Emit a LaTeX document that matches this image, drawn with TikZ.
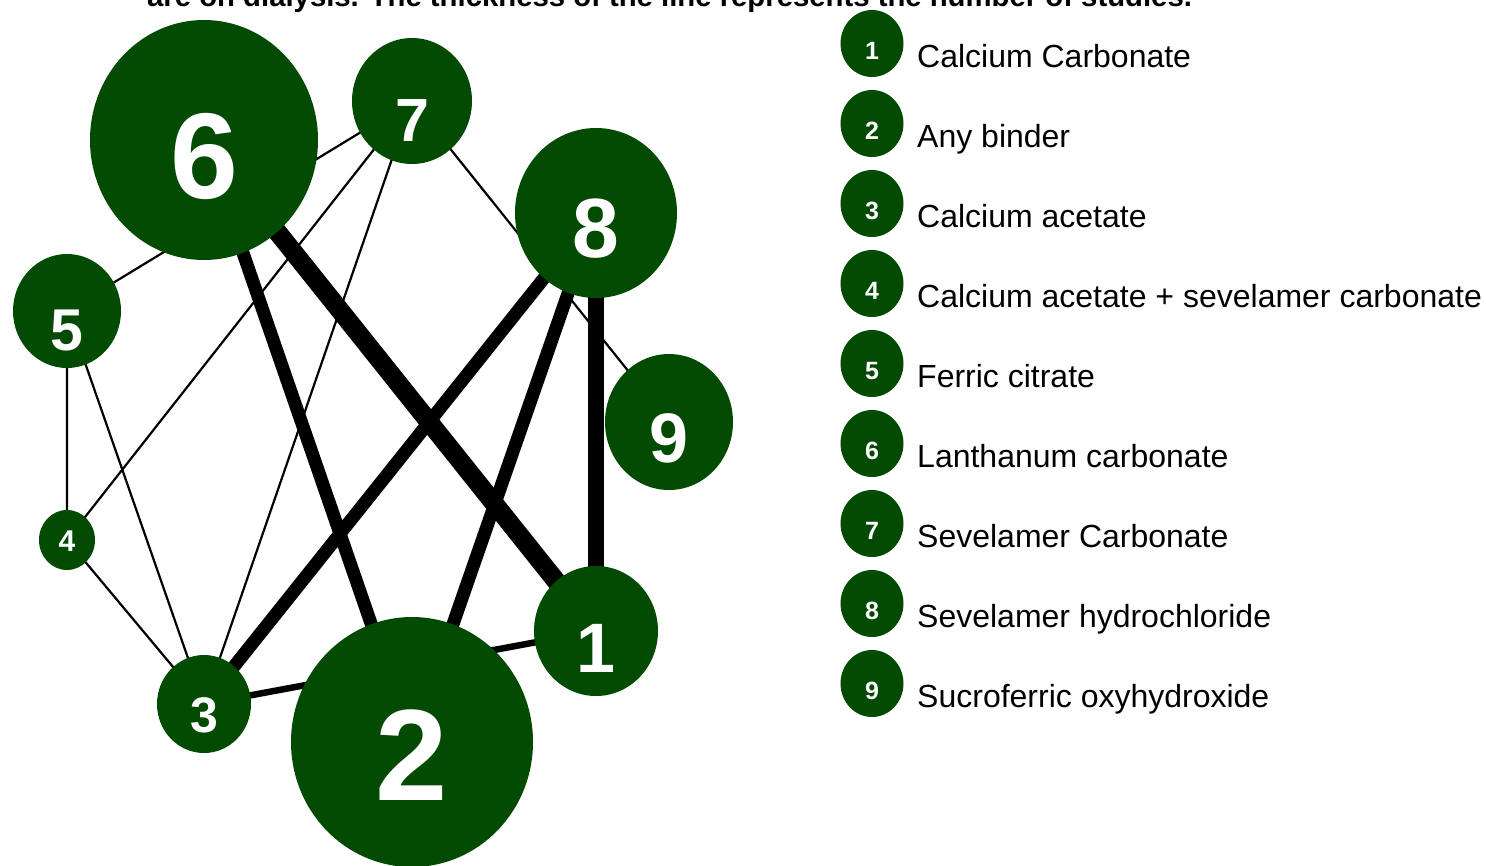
\documentclass[tikz,border=0pt]{standalone}
\usepackage{fontspec}
\setmainfont{Liberation Sans}
\usetikzlibrary{shapes.geometric,backgrounds}
\definecolor{dkgreen}{RGB}{3,74,3}
\tikzset{
  drug/.style n args={4}{ellipse,fill=dkgreen,text=white,inner sep=0pt,minimum width=#1,minimum height=#2,
    font=\bfseries\fontsize{#3}{#3}\selectfont,text height=2*#4+.716*#3,text depth=0pt},
  key/.style={ellipse,fill=dkgreen,text=white,inner sep=0pt,minimum width=63,minimum height=67,
    font=\bfseries\fontsize{25}{25}\selectfont,text height=32,text depth=0pt},
  keytext/.style={anchor=base west,inner sep=0pt,font=\fontsize{32}{32}\selectfont},
  e1/.style={line width=2.2pt}, e2/.style={line width=6.5pt}, e3/.style={line width=13pt},
  e4/.style={line width=16pt}, e5/.style={line width=19pt}
}
\begin{document}
\begin{tikzpicture}[x=1pt,y=-1pt]
  \useasboundingbox (0,0) rectangle (1486,865);
  % caption, cut by the page edge
  \node[anchor=base west,inner sep=0pt,font=\bfseries\fontsize{29.3}{30}\selectfont] (cap) at (147,6)
    {are on dialysis. The thickness of the line represents the number of studies.};
  % network
  \node[drug={228}{240}{122}{14.5}] (n6) at (204,140) {6};
  \node[drug={120}{126}{61}{19}] (n7) at (412,101) {7};
  \node[drug={162}{170}{84}{14}] (n8) at (596,213) {8};
  \node[drug={108}{114}{59}{18}] (n5) at (67,311) {5};
  \node[drug={128}{136}{70}{15}] (n9) at (669,422) {9};
  \node[drug={56}{60}{30}{1}] (n4) at (67,540) {4};
  \node[drug={94}{98}{50}{11}] (n3) at (204,704) {3};
  \node[drug={242}{250}{130}{11.5}] (n2) at (412,742) {2};
  \node[drug={124}{130}{70}{16}] (n1) at (596,631) {1};
  \begin{pgfonlayer}{background}
    \draw[e1] (n5.center)--(n7.center) (n7.center)--(n4.center) (n7.center)--(n3.center) (n7.center)--(n9.center);
    \draw[e1] (n5.center)--(n4.center) (n5.center)--(n3.center) (n4.center)--(n3.center);
    \draw[e2] (n3.center)--(n1.center);
    \draw[e3] (n6.center)--(n2.center) (n8.center)--(n3.center) (n8.center)--(n2.center);
    \draw[e4] (n8.center)--(n1.center);
    \draw[e5] (n6.center)--(n1.center);
  \end{pgfonlayer}
  % legend
  \node[key] (k1) at (872,43.5) {1}; \node[keytext] (t1) at (917,67) {Calcium Carbonate};
  \node[key] (k2) at (872,123.5) {2}; \node[keytext] (t2) at (917,147) {Any binder};
  \node[key] (k3) at (872,203.5) {3}; \node[keytext] (t3) at (917,227) {Calcium acetate};
  \node[key] (k4) at (872,283.5) {4}; \node[keytext] (t4) at (917,307) {Calcium acetate + sevelamer carbonate};
  \node[key] (k5) at (872,363.5) {5}; \node[keytext] (t5) at (917,387) {Ferric citrate};
  \node[key] (k6) at (872,443.5) {6}; \node[keytext] (t6) at (917,467) {Lanthanum carbonate};
  \node[key] (k7) at (872,523.5) {7}; \node[keytext] (t7) at (917,547) {Sevelamer Carbonate};
  \node[key] (k8) at (872,603.5) {8}; \node[keytext] (t8) at (917,627) {Sevelamer hydrochloride};
  \node[key] (k9) at (872,683.5) {9}; \node[keytext] (t9) at (917,707) {Sucroferric oxyhydroxide};
\end{tikzpicture}
\end{document}
